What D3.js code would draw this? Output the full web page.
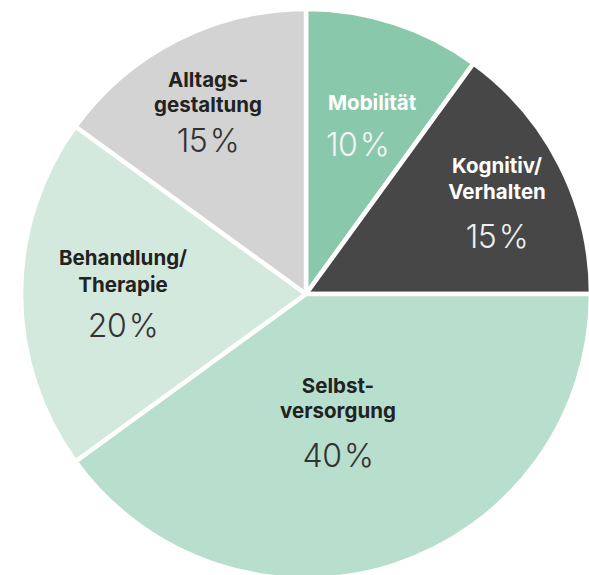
<!DOCTYPE html>
<html>
<head>
<meta charset="utf-8">
<script src="https://cdn.jsdelivr.net/npm/d3@7"></script>
<style>
  html, body { margin: 0; padding: 0; background: #fff; }
  svg { display: block; }
  .lbl { font-family: Inter, "Liberation Sans", sans-serif; font-weight: 700; font-size: 20.5px; }
  .pct { font-family: Inter, "Liberation Sans", sans-serif; font-weight: 300; font-size: 32px; letter-spacing: -0.5px; }
</style>
</head>
<body>
<svg id="chart" width="589" height="575"></svg>
<script>
// data
const categories = ["Mobilität", "Kognitiv/Verhalten", "Selbstversorgung", "Behandlung/Therapie", "Alltagsgestaltung"];
const labelLines = [["Mobilität"], ["Kognitiv/", "Verhalten"], ["Selbst-", "versorgung"], ["Behandlung/", "Therapie"], ["Alltags-", "gestaltung"]];
const shares = [10, 15, 40, 20, 15];

// looks
const fills = ["#8ac8ab", "#474747", "#b8decd", "#d3e9de", "#d3d3d3"];
const textFill = ["#ffffff", "#ffffff", "#222222", "#222222", "#222222"];
const pctFill = ["#f4f4f4", "#eeeeee", "#333333", "#333333", "#333333"];
// label placement: x, first baseline, line step, percent baseline, anchor
const labelPos = [
    {x: 328, y: 110, step: 0, py: 156, anchor: "start"},
    {x: 497, y: 173, step: 26, py: 248, anchor: "middle"},
    {x: 338, y: 393, step: 25, py: 467, anchor: "middle"},
    {x: 123, y: 265, step: 26.5, py: 336.5, anchor: "middle"},
    {x: 208, y: 87, step: 24.5, py: 151.5, anchor: "middle"}
];

const svg = d3.select("#chart");
const cx = 306, cy = 294, radius = 285;

const pie = d3.pie().sort(null).value(d => d);
const arc = d3.arc().innerRadius(0).outerRadius(radius);

const g = svg.append("g").attr("transform", `translate(${cx},${cy})`);

g.selectAll("path")
    .data(pie(shares))
    .enter().append("path")
    .attr("d", arc)
    .attr("fill", (d, i) => fills[i])
    .attr("stroke", "#fff")
    .attr("stroke-width", 4.5)
    .attr("stroke-linejoin", "round");

categories.forEach((cat, i) => {
    const p = labelPos[i];
    const t = svg.append("text")
        .attr("class", "lbl")
        .attr("text-anchor", p.anchor)
        .attr("fill", textFill[i]);
    labelLines[i].forEach((line, j) => {
        t.append("tspan")
            .attr("x", p.x)
            .attr("y", p.y + j * p.step)
            .text(line);
    });
    svg.append("text")
        .attr("class", "pct")
        .attr("text-anchor", p.anchor)
        .attr("fill", pctFill[i])
        .attr("x", p.anchor === "start" ? p.x - 2 : p.x)
        .attr("y", p.py)
        .text(shares[i] + "\u200A%");
});
</script>
</body>
</html>
